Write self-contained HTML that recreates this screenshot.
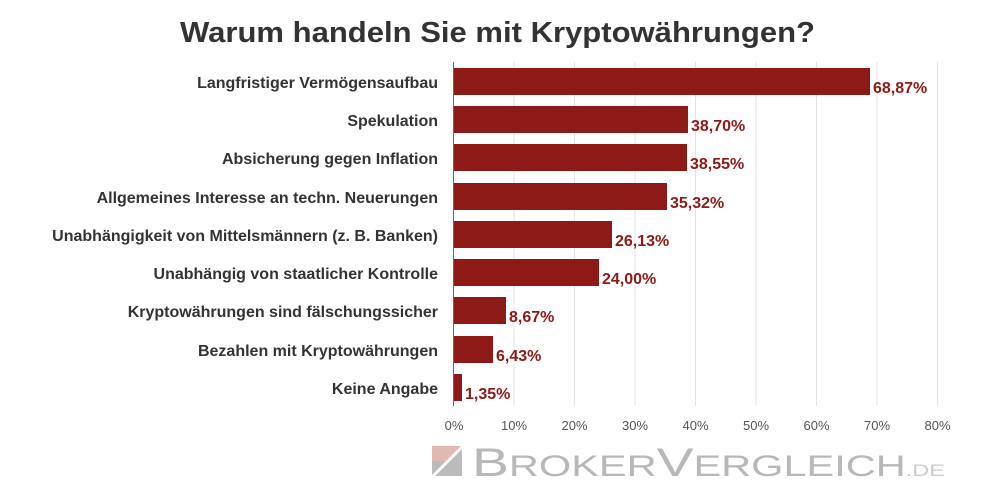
<!DOCTYPE html>
<html><head><meta charset="utf-8"><style>
body{margin:0;background:#fff;}
svg{display:block;font-family:"Liberation Sans",sans-serif;}
</style></head><body>
<svg width="1000" height="497" viewBox="0 0 1000 497">
<rect width="1000" height="497" fill="#fff"/>
<text x="180" y="42" textLength="635" lengthAdjust="spacingAndGlyphs" font-size="29" font-weight="bold" fill="#333">Warum handeln Sie mit Kryptowährungen?</text>
<g stroke="#e3e3e3" stroke-width="1">
<line x1="514" y1="62" x2="514" y2="406"/><line x1="574.5" y1="62" x2="574.5" y2="406"/>
<line x1="635" y1="62" x2="635" y2="406"/><line x1="695.5" y1="62" x2="695.5" y2="406"/>
<line x1="756" y1="62" x2="756" y2="406"/><line x1="816.5" y1="62" x2="816.5" y2="406"/>
<line x1="877" y1="62" x2="877" y2="406"/><line x1="937.5" y1="62" x2="937.5" y2="406"/>
</g>
<line x1="453.5" y1="62" x2="453.5" y2="406" stroke="#666" stroke-width="1"/>
<g fill="#8e1a17">
<rect x="454" y="68" width="416" height="27"/>
<rect x="454" y="106" width="234" height="27"/>
<rect x="454" y="144" width="233" height="27"/>
<rect x="454" y="183" width="213" height="27"/>
<rect x="454" y="221" width="158" height="27"/>
<rect x="454" y="259" width="145" height="27"/>
<rect x="454" y="297" width="52" height="27"/>
<rect x="454" y="336" width="39" height="27"/>
<rect x="454" y="374" width="8" height="27"/>
</g>
<g font-size="16" font-weight="bold" fill="#333" text-anchor="end">
<text x="438" y="88">Langfristiger Vermögensaufbau</text>
<text x="438" y="126">Spekulation</text>
<text x="438" y="164">Absicherung gegen Inflation</text>
<text x="438" y="203">Allgemeines Interesse an techn. Neuerungen</text>
<text x="438" y="241">Unabhängigkeit von Mittelsmännern (z. B. Banken)</text>
<text x="438" y="279">Unabhängig von staatlicher Kontrolle</text>
<text x="438" y="317">Kryptowährungen sind fälschungssicher</text>
<text x="438" y="356">Bezahlen mit Kryptowährungen</text>
<text x="438" y="394">Keine Angabe</text>
</g>
<g font-size="16" font-weight="bold" fill="#8e1a17">
<text x="873" y="93">68,87%</text>
<text x="691" y="131">38,70%</text>
<text x="690" y="169">38,55%</text>
<text x="670" y="208">35,32%</text>
<text x="615" y="246">26,13%</text>
<text x="602" y="284">24,00%</text>
<text x="509" y="322">8,67%</text>
<text x="496" y="361">6,43%</text>
<text x="465" y="399">1,35%</text>
</g>
<g font-size="13" fill="#555" text-anchor="middle">
<text x="454" y="430">0%</text><text x="514" y="430">10%</text><text x="574.5" y="430">20%</text>
<text x="635" y="430">30%</text><text x="695.5" y="430">40%</text><text x="756" y="430">50%</text>
<text x="816.5" y="430">60%</text><text x="877" y="430">70%</text><text x="937.5" y="430">80%</text>
</g>
<polygon points="432,446 462,446 432,476" fill="#e3b8b2"/>
<polygon points="432,461 447,461 432,476" fill="#bbb"/>
<polygon points="462,449 462,476 435,476" fill="#bbb"/>
<line x1="431" y1="478" x2="464" y2="445" stroke="#fff" stroke-width="3"/>
<text x="472" y="476" font-size="40" fill="#b8b8b8" textLength="473" lengthAdjust="spacingAndGlyphs">B<tspan font-size="30">ROKER</tspan>V<tspan font-size="30">ERGLEICH</tspan><tspan font-size="17" fill="#ccc">.DE</tspan></text>
</svg>
</body></html>
